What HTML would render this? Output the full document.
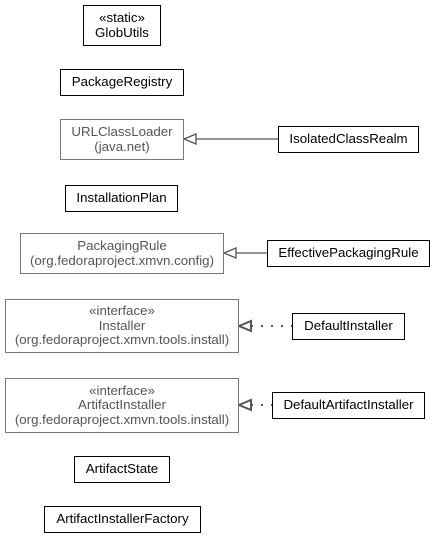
<!DOCTYPE html>
<html><head><style>
body{margin:0;width:435px;height:537px;background:#fff;position:relative;overflow:hidden;font-family:"Liberation Sans",sans-serif;font-size:13.3px;}
.b{position:absolute;box-sizing:border-box;border:1.6px solid #000;background:#fff;display:flex;flex-direction:column;justify-content:center;align-items:center;text-align:center;line-height:14.5px;color:#000;white-space:nowrap;}
.g{border:1.3px solid #777;color:#555;}
</style></head><body>
<svg width="435" height="537" style="position:absolute;left:0;top:0">
<g stroke="#555" stroke-width="1.3" fill="#fff">
<line x1="196" y1="139" x2="278" y2="139"/>
<polygon points="184,139 196,134 196,144"/>
<line x1="236" y1="253" x2="267" y2="253"/>
<polygon points="224,253 236,248 236,258"/>
<line x1="251" y1="326" x2="292" y2="326" stroke-dasharray="2,8" stroke-width="2"/>
<polygon points="239,326 251,321 251,331" stroke-width="2"/>
<line x1="251" y1="405" x2="272" y2="405" stroke-dasharray="2,8" stroke-width="2"/>
<polygon points="239,405 251,400 251,410" stroke-width="2"/>
</g></svg>
<div class="b" style="left:83px;top:5px;width:78px;height:41px">«static»<br>GlobUtils</div>
<div class="b" style="left:60px;top:69px;width:124px;height:27px">PackageRegistry</div>
<div class="b g" style="left:60px;top:119px;width:124px;height:41px">URLClassLoader<br>(java.net)</div>
<div class="b" style="left:278px;top:126px;width:141px;height:27px">IsolatedClassRealm</div>
<div class="b" style="left:65px;top:185px;width:113px;height:27px">InstallationPlan</div>
<div class="b g" style="left:20px;top:233px;width:204px;height:41px">PackagingRule<br>(org.fedoraproject.xmvn.config)</div>
<div class="b" style="left:267px;top:240px;width:163px;height:27px">EffectivePackagingRule</div>
<div class="b g" style="left:5px;top:299px;width:234px;height:54px">«interface»<br>Installer<br>(org.fedoraproject.xmvn.tools.install)</div>
<div class="b" style="left:292px;top:313px;width:113px;height:27px">DefaultInstaller</div>
<div class="b g" style="left:5px;top:378px;width:234px;height:55px">«interface»<br>ArtifactInstaller<br>(org.fedoraproject.xmvn.tools.install)</div>
<div class="b" style="left:272px;top:392px;width:153px;height:27px">DefaultArtifactInstaller</div>
<div class="b" style="left:74px;top:456px;width:96px;height:27px">ArtifactState</div>
<div class="b" style="left:44px;top:506px;width:157px;height:27px">ArtifactInstallerFactory</div>
</body></html>
